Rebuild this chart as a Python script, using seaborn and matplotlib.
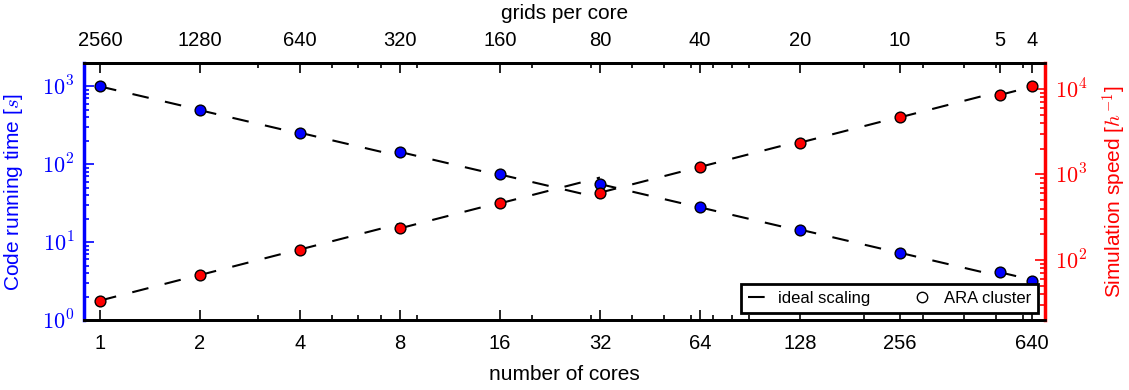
import numpy as np
import pandas as pd
import matplotlib
matplotlib.use('Agg')
import matplotlib.pyplot as plt
import seaborn as sns
from matplotlib.lines import Line2D
from matplotlib.ticker import FixedLocator, LogLocator, NullFormatter, FuncFormatter, FixedFormatter

# ---- data ----
cores = [1, 2, 4, 8, 16, 32, 64, 128, 256, 512, 640]
grids_per_core = [2560, 1280, 640, 320, 160, 80, 40, 20, 10, 5, 4]
bottom_ticks = [1, 2, 4, 8, 16, 32, 64, 128, 256, 640]
run_time = [1000, 495, 254, 144, 74, 55.7, 28, 14.5, 7.3, 4.1, 3.18]      # s
sim_speed = [33.7, 67, 133, 235, 460, 613, 1224, 2350, 4640, 8470, 10870]  # 1/h

# ideal-scaling segments: from each measured point to the next core count
rows = []
for i in range(len(cores) - 1):
    n0, n1 = cores[i], cores[i + 1]
    rows.append(dict(seg=i, cores=n0, time=run_time[i], speed=sim_speed[i]))
    rows.append(dict(seg=i, cores=n1, time=run_time[i] * n0 / n1, speed=sim_speed[i] * n1 / n0))
ideal = pd.DataFrame(rows)
meas = pd.DataFrame(dict(cores=cores, time=run_time, speed=sim_speed))

sns.set_style('ticks')
plt.rcParams.update({
    'font.family': ['Liberation Sans', 'DejaVu Sans'],
    'mathtext.fontset': 'cm',
    'text.color': 'black',
    'axes.labelcolor': 'black',
    'xtick.color': 'black',
    'ytick.color': 'black',
})

W, H = 1129, 390
fig = plt.figure(figsize=(W / 100, H / 100), dpi=100)
L, R, T, B = 84, 1045, 63, 320
ax = fig.add_axes([L / W, 1 - B / H, (R - L) / W, (B - T) / H])

dash = (0, (8, 8))
sns.lineplot(data=ideal, x='cores', y='time', units='seg', estimator=None, sort=False,
             color='black', lw=1.5, linestyle=dash, ax=ax, legend=False)
sns.scatterplot(data=meas, x='cores', y='time', color='#0000ff', edgecolor='black',
                linewidth=1.0, s=60, zorder=3, ax=ax, legend=False)
ax.set_xscale('log')
ax.set_yscale('log')
ax.set_xlim(0.895, 700)
ax.set_ylim(1, 2000)

ax2 = ax.twinx()
sns.lineplot(data=ideal, x='cores', y='speed', units='seg', estimator=None, sort=False,
             color='black', lw=1.5, linestyle=dash, ax=ax2, legend=False)
sns.scatterplot(data=meas, x='cores', y='speed', color='#ff0000', edgecolor='black',
                linewidth=1.0, s=60, zorder=3, ax=ax2, legend=False)
ax2.set_yscale('log')
ax2.set_ylim(20, 20000)
ax2.set_xlim(0.895, 700)

# ---- axes styling ----
lw_sp = 2.0
for a in (ax, ax2):
    for s in a.spines.values():
        s.set_linewidth(lw_sp)
        s.set_color('black')
ax.spines['left'].set_color('#0000ff')
ax.spines['left'].set_linewidth(2.5)
ax.spines['right'].set_visible(False)
ax2.spines['left'].set_visible(False)
ax2.spines['right'].set_color('#ff0000')
ax2.spines['right'].set_linewidth(2.5)

# bottom x
ax.xaxis.set_major_locator(FixedLocator(bottom_ticks))
ax.xaxis.set_major_formatter(FixedFormatter([str(c) for c in bottom_ticks]))
ax.xaxis.set_minor_locator(LogLocator(base=10, subs=np.arange(2, 10)))
ax.xaxis.set_minor_formatter(NullFormatter())
ax.tick_params(axis='x', which='both', direction='in', top=False, bottom=True,
               labelsize=14.5, pad=10, color='black', labelcolor='black', width=1.2)
ax.tick_params(axis='x', which='major', length=7)
ax.tick_params(axis='x', which='minor', length=3.5)
ax.set_xlabel('number of cores', fontsize=15, labelpad=9, color='black')

# top x
sec = ax.secondary_xaxis('top')
sec.xaxis.set_major_locator(FixedLocator(cores))
sec.xaxis.set_major_formatter(FixedFormatter([str(g) for g in grids_per_core]))
sec.xaxis.set_minor_locator(LogLocator(base=10, subs=np.arange(2, 10)))
sec.xaxis.set_minor_formatter(NullFormatter())
sec.tick_params(axis='x', which='both', direction='in', labelsize=14.5, pad=9,
                width=1.2, color='black', labelcolor='black')
sec.tick_params(axis='x', which='major', length=7)
sec.tick_params(axis='x', which='minor', length=3.5)
sec.spines['top'].set_linewidth(lw_sp)
sec.spines['top'].set_color('black')
sec.set_xlabel('grids per core', fontsize=15, labelpad=9, color='black')

fmt = FuncFormatter(lambda v, p: r'$10^{%d}$' % int(round(np.log10(v))))
# left y
ax.yaxis.set_major_locator(FixedLocator([1, 10, 100, 1000]))
ax.yaxis.set_major_formatter(fmt)
ax.yaxis.set_minor_locator(LogLocator(base=10, subs=np.arange(2, 10)))
ax.yaxis.set_minor_formatter(NullFormatter())
ax.tick_params(axis='y', which='both', direction='in', left=True, right=False,
               colors='#0000ff', labelsize=16, pad=7, width=1.2)
ax.tick_params(axis='y', which='major', length=7)
ax.tick_params(axis='y', which='minor', length=3.5)
ax.set_ylabel('Code running time [$s$]', fontsize=15, color='#0000ff')
ax.yaxis.set_label_coords(-0.061, 0.5)

# right y
ax2.yaxis.set_major_locator(FixedLocator([100, 1000, 10000]))
ax2.yaxis.set_major_formatter(fmt)
ax2.yaxis.set_minor_locator(LogLocator(base=10, subs=np.arange(2, 10)))
ax2.yaxis.set_minor_formatter(NullFormatter())
ax2.tick_params(axis='y', which='both', direction='in', left=False, right=True,
                colors='#ff0000', labelsize=16, pad=7, width=1.2)
ax2.tick_params(axis='y', which='major', length=7)
ax2.tick_params(axis='y', which='minor', length=3.5)
ax2.set_ylabel('Simulation speed [$h^{-1}$]', fontsize=15, color='#ff0000')
ax2.yaxis.set_label_coords(1.0585, 0.5)

# legend
handles = [Line2D([0], [0], color='black', lw=1.5, linestyle=dash),
           Line2D([0], [0], marker='o', linestyle='none', markerfacecolor='white',
                  markeredgecolor='black', markersize=7.5, markeredgewidth=1.0)]
leg = ax2.legend(handles, ['ideal scaling', 'ARA cluster'], loc='lower right', ncol=2,
                 fontsize=12, frameon=True, fancybox=False, edgecolor='black',
                 framealpha=1, handlelength=1.0, columnspacing=2.6,
                 borderaxespad=0.45)
leg.get_frame().set_linewidth(2.0)
for t in leg.get_texts():
    t.set_color('black')

fig.savefig('out.png', dpi=100)
